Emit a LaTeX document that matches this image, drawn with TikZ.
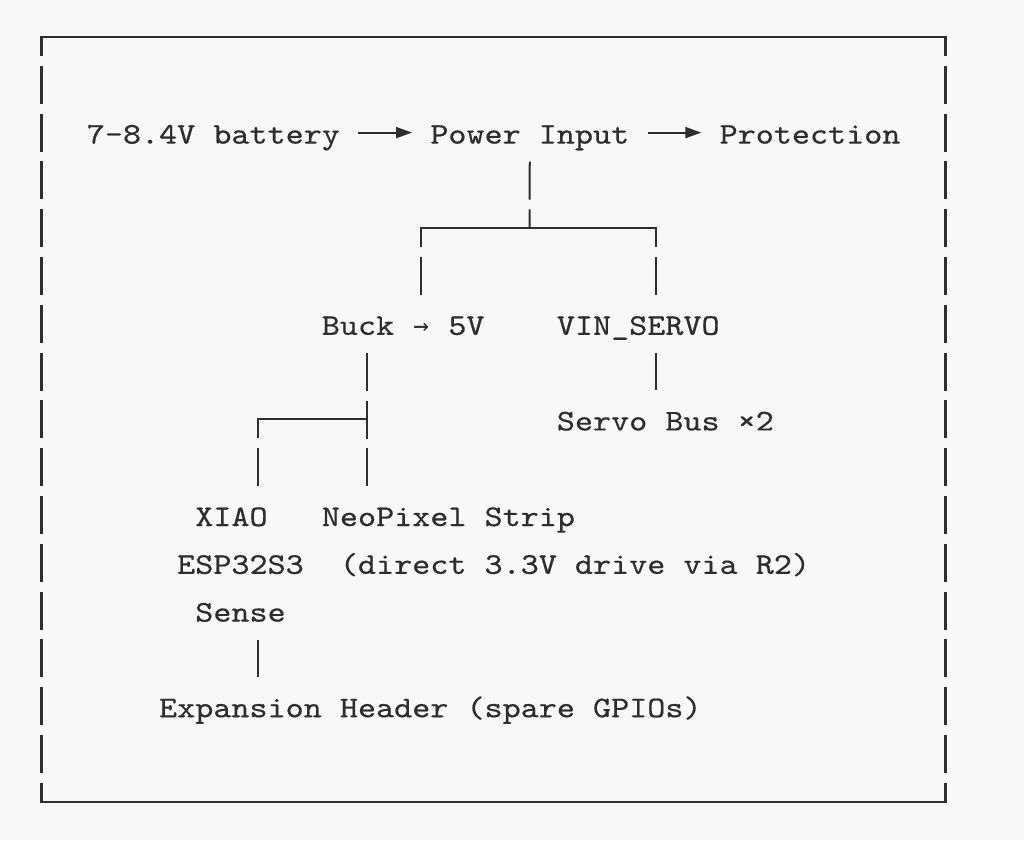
\documentclass[tikz,border=0pt]{standalone}
\usepackage{fontspec}
\usetikzlibrary{arrows.meta}
\newfontfamily\mono[FakeStretch=1.148,FakeBold=0.5]{lmmono10-regular.otf}
\newfontfamily\arrowfont{DejaVu Sans Mono}
\definecolor{ink}{HTML}{2E2E2E}
\definecolor{bg}{HTML}{F8F8F8}
\newcommand{\smallarr}{\makebox[18.08pt]{\arrowfont\fontsize{26}{26}\selectfont →}}
\begin{document}
\begin{tikzpicture}[x=1pt,y=-1pt,
  txt/.style={font=\mono\fontsize{30}{47.8}\selectfont, text=ink, inner sep=0pt,
              text height=34.9pt, text depth=12.9pt, anchor=base west},
  ln/.style={draw=ink, line width=2pt},
  hb/.style={ln, line cap=rect},
  vb/.style={ln, dash pattern=on 38pt off 9.8pt},
  arr/.style={draw=ink, line width=1.8pt, -{Triangle[length=16pt,width=11pt]},
              shorten <=18.08pt, shorten >=18.08pt}]
\path[fill=bg] (0,0) rectangle (1024,840);
\useasboundingbox (0,0) rectangle (1024,840);

% frame
\coordinate (tl) at (41.4,37);
\coordinate (tr) at (945.4,37);
\coordinate (bl) at (41.4,801.8);
\coordinate (br) at (945.4,801.8);
\draw[hb, line width=2.2pt] (tl) -- (tr);
\draw[hb, line width=2.2pt] (bl) -- (br);
\draw[vb, line width=2.2pt, dash phase=19pt] (tl) -- (bl);
\draw[vb, line width=2.2pt, dash phase=19pt] (tr) -- (br);

% nodes
\node[txt] (bat)   at (86.6,143.6)   {7-8.4V battery};
\node[txt] (pwr)   at (430.12,143.6) {Power Input};
\node[txt] (prot)  at (719.4,143.6)  {Protection};
\node[txt] (buck)  at (321.64,334.8) {Buck \smallarr{} 5V};
\node[txt] (vin)   at (556.68,334.8) {VIN\_SERVO};
\node[txt] (servo) at (556.68,430.4) {Servo Bus ×2};
\node[txt] (xiao)  at (195.08,526)   {XIAO};
\node[txt] (neo)   at (321.64,526)   {NeoPixel Strip};
\node[txt] (esp)   at (177.0,573.8)  {ESP32S3};
\node[txt] (note)  at (339.72,573.8) {(direct 3.3V drive via R2)};
\node[txt] (sense) at (195.08,621.6) {Sense};
\node[txt] (exp)   at (158.92,717.2) {Expansion Header (spare GPIOs)};

% arrows on first row
\draw[arr] (bat.east |- bat.base) ++(0,-11) coordinate (a0) -- (a0 -| pwr.west);
\draw[arr] (pwr.east |- pwr.base) ++(0,-11) coordinate (a1) -- (a1 -| prot.west);

% power input split
\coordinate (j1)  at (529.56,228.2);
\coordinate (j1l) at (421.08,228.2);
\coordinate (j1r) at (656.12,228.2);
\draw[vb, shorten <=4.9pt] (pwr.south) -- (j1);
\draw[hb] (j1l) -- (j1r);
\draw[vb, dash phase=19pt, shorten >=4.9pt] (j1l) -- (j1l |- buck.north);
\draw[vb, dash phase=19pt, shorten >=4.9pt] (j1r) -- (j1r |- vin.north);

% VIN_SERVO -> servo bus
\draw[vb, shorten <=4.9pt, shorten >=4.9pt] (j1r |- vin.south) -- (j1r |- servo.north);

% buck split
\coordinate (j2)  at (366.84,419.4);
\coordinate (j2l) at (258.36,419.4);
\draw[vb, shorten <=4.9pt, shorten >=4.9pt] (j2 |- buck.south) -- (j2 |- neo.north);
\draw[hb] (j2l) -- (j2);
\draw[vb, dash phase=19pt, shorten >=4.9pt] (j2l) -- (j2l |- xiao.north);

% sense -> expansion header
\draw[vb, shorten <=4.9pt, shorten >=4.9pt] (j2l |- sense.south) -- (j2l |- exp.north);
\end{tikzpicture}
\end{document}
